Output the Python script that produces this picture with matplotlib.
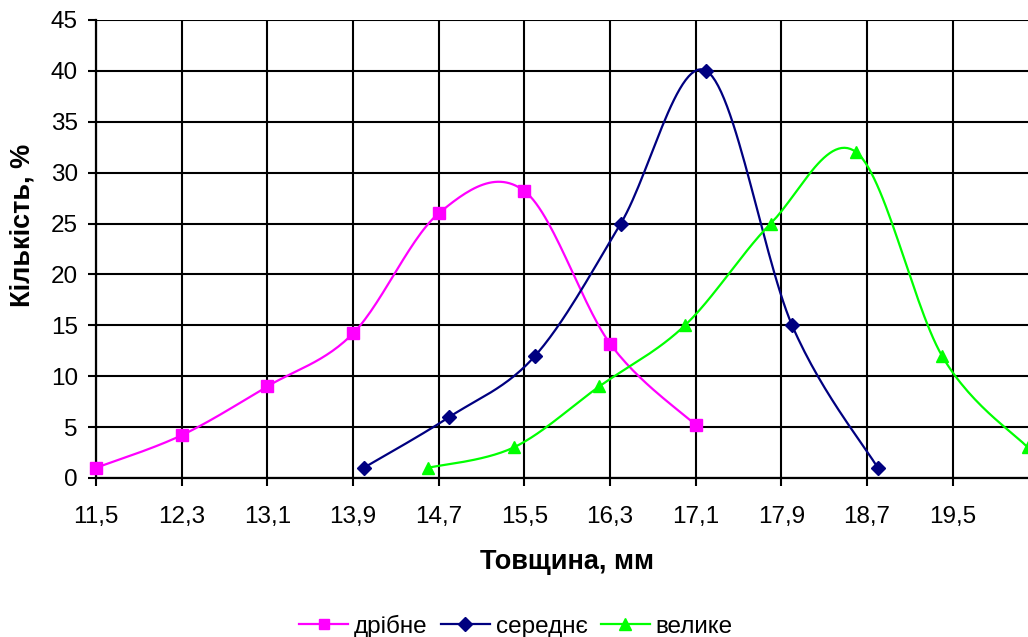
import numpy as np
import matplotlib
matplotlib.use("Agg")
import matplotlib.pyplot as plt

# ---- data ----
x_fine = [11.5, 12.3, 13.1, 13.9, 14.7, 15.5, 16.3, 17.1]
y_fine = [1.0, 4.2, 9.0, 14.2, 26.0, 28.2, 13.2, 5.2]

x_medium = [14.0, 14.8, 15.6, 16.4, 17.2, 18.0, 18.8]
y_medium = [1.0, 6.0, 12.0, 25.0, 40.0, 15.0, 1.0]

x_large = [14.6, 15.4, 16.2, 17.0, 17.8, 18.6, 19.4, 20.2]
y_large = [1.0, 3.0, 9.0, 15.0, 25.0, 32.0, 12.0, 3.0]

x_ticks = [11.5, 12.3, 13.1, 13.9, 14.7, 15.5, 16.3, 17.1, 17.9, 18.7, 19.5]
x_tick_labels = ["11,5", "12,3", "13,1", "13,9", "14,7", "15,5", "16,3",
                 "17,1", "17,9", "18,7", "19,5"]
y_ticks = list(range(0, 50, 5))

labels = ["дрібне", "середнє", "велике"]
colors = ["#FF00FF", "#000080", "#00FF00"]
markers = ["s", "D", "^"]
msizes = [8, 7.5, 9]


def smooth(xs, ys, n=30):
    """Excel-like smoothed line (Catmull-Rom / Bezier with 1/6 tension)."""
    P = np.column_stack([xs, ys]).astype(float)
    out = [P[0]]
    m = len(P)
    for i in range(m - 1):
        p0 = P[i - 1] if i > 0 else P[i]
        p1 = P[i]
        p2 = P[i + 1]
        p3 = P[i + 2] if i + 2 < m else P[i + 1]
        c1 = p1 + (p2 - p0) / 6.0
        c2 = p2 - (p3 - p1) / 6.0
        t = np.linspace(0, 1, n)[1:, None]
        seg = ((1 - t) ** 3) * p1 + 3 * ((1 - t) ** 2) * t * c1 + \
            3 * (1 - t) * t ** 2 * c2 + t ** 3 * p2
        out.extend(seg)
    out = np.array(out)
    return out[:, 0], out[:, 1]


plt.rcParams['font.family'] = ['Liberation Sans', 'DejaVu Sans']

W, H = 1028, 637
fig = plt.figure(figsize=(W / 100, H / 100), dpi=100)
left, right, top, bottom = 96, 1038.4, 20, 478
ax = fig.add_axes([left / W, 1 - bottom / H, (right - left) / W, (bottom - top) / H])

ax.set_xlim(11.5, 20.3)
ax.set_ylim(0, 45)

# grid
ax.set_xticks(x_ticks + [20.3])
ax.set_xticklabels(x_tick_labels + [""])
ax.set_yticks(y_ticks)
ax.grid(True, color="black", linewidth=1.5, zorder=0)
ax.set_axisbelow(True)

series = [(x_fine, y_fine), (x_medium, y_medium), (x_large, y_large)]
handles = []
for (xs, ys), lab, c, mk, ms in zip(series, labels, colors, markers, msizes):
    sx, sy = smooth(xs, ys)
    ax.plot(sx, sy, color=c, linewidth=1.6, zorder=3, clip_on=False)
    ax.plot(xs, ys, linestyle="none", marker=mk, markersize=ms, color=c,
            markeredgecolor=c, zorder=4, clip_on=False)
    h, = ax.plot([], [], color=c, linewidth=1.6, marker=mk, markersize=ms * 0.9,
                 markeredgecolor=c, label=lab)
    handles.append(h)

for s in ["top", "right"]:
    ax.spines[s].set_visible(False)
for s in ["left", "bottom"]:
    ax.spines[s].set_color("black")
    ax.spines[s].set_linewidth(1.6)

ax.tick_params(axis="both", direction="out", length=6, width=1.5, color="black",
               labelsize=17.5)
ax.tick_params(axis="y", pad=7)
ax.tick_params(axis="x", pad=14)

ax.set_xlabel("Товщина, мм", fontsize=19.5, fontweight="bold")
ax.xaxis.set_label_coords((567 - left) / (right - left), (bottom - 549) / (bottom - top))
ax.xaxis.label.set_va("top")

fig.text(22.5 / W, 1 - 225 / H, "Кількість, %", rotation=90, fontsize=19.5,
         fontweight="bold", ha="center", va="center")

fig.legend(handles=handles, loc="center", bbox_to_anchor=(516 / W, 1 - 626 / H),
           ncol=3, frameon=False, fontsize=17.5, handlelength=2.0,
           handletextpad=0.25, columnspacing=0.55)

fig.savefig("out.png", dpi=100)
